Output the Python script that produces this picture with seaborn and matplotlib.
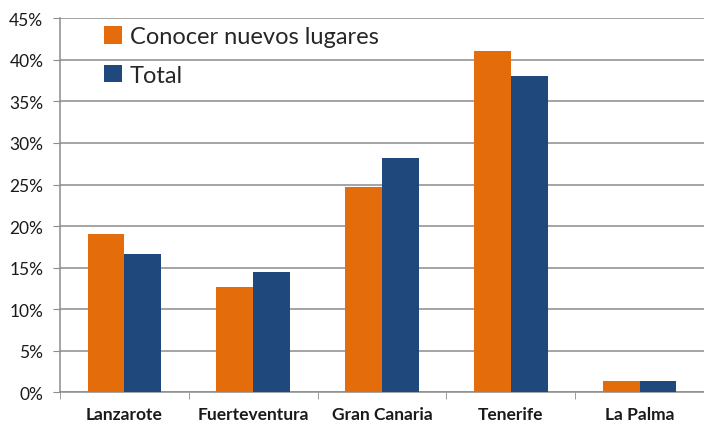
import matplotlib
matplotlib.use("Agg")
import matplotlib.pyplot as plt
import seaborn as sns
import pandas as pd
from matplotlib.ticker import FuncFormatter, FixedLocator

categories = ["Lanzarote", "Fuerteventura", "Gran Canaria", "Tenerife", "La Palma"]
conocer = [19.1, 12.7, 24.7, 41.1, 1.4]
total = [16.6, 14.5, 28.2, 38.1, 1.3]
series_names = ["Conocer nuevos lugares", "Total"]
yticks = [0, 5, 10, 15, 20, 25, 30, 35, 40, 45]

df = pd.DataFrame({
    "isla": categories * 2,
    "valor": conocer + total,
    "serie": [series_names[0]] * len(categories) + [series_names[1]] * len(categories),
})

sns.set_style("white")
plt.rcParams["font.family"] = ["Lato", "DejaVu Sans"]

fig = plt.figure(figsize=(7.04, 4.27), dpi=100)
ax = fig.add_axes([60 / 704, 1 - 393.3 / 427, 644 / 704, 374 / 427])

sns.barplot(data=df, x="isla", y="valor", hue="serie", ax=ax,
            palette=["#E46C0A", "#1F497D"], width=0.572, saturation=1,
            edgecolor="none", linewidth=0, zorder=3)

ax.set_ylim(0, 45)
ax.set_xlim(-0.5, 4.48)
ax.yaxis.set_major_locator(FixedLocator(yticks))
ax.yaxis.set_major_formatter(FuncFormatter(lambda v, p: f"{int(v)}%"))
ax.grid(axis="y", color="#8c8c8c", linewidth=1.1, zorder=0)
ax.set_axisbelow(True)
ax.set_xlabel("")
ax.set_ylabel("")

for s in ["top", "right"]:
    ax.spines[s].set_visible(False)
for s in ["left", "bottom"]:
    ax.spines[s].set_color("#8c8c8c")
    ax.spines[s].set_linewidth(1.1)

ax.tick_params(axis="y", which="major", length=5, color="#8c8c8c", labelsize=12.5,
               labelcolor="#1a1a1a", pad=7, left=True)
ax.set_xticks(range(len(categories)))
ax.set_xticklabels(categories, fontsize=12.5, fontweight="bold", color="#1a1a1a")
ax.tick_params(axis="x", which="major", length=0, pad=10)
ax.set_xticks([i - 0.5 for i in range(len(categories) + 1)], minor=True)
ax.tick_params(axis="x", which="minor", length=5, color="#8c8c8c", bottom=True)

leg = ax.legend(loc="upper left", bbox_to_anchor=(0.05, 1.01), frameon=False,
                fontsize=17, handlelength=0.75, handleheight=0.75,
                handletextpad=0.35, labelspacing=0.75, borderaxespad=0.1)

fig.savefig("out.png", dpi=100)
